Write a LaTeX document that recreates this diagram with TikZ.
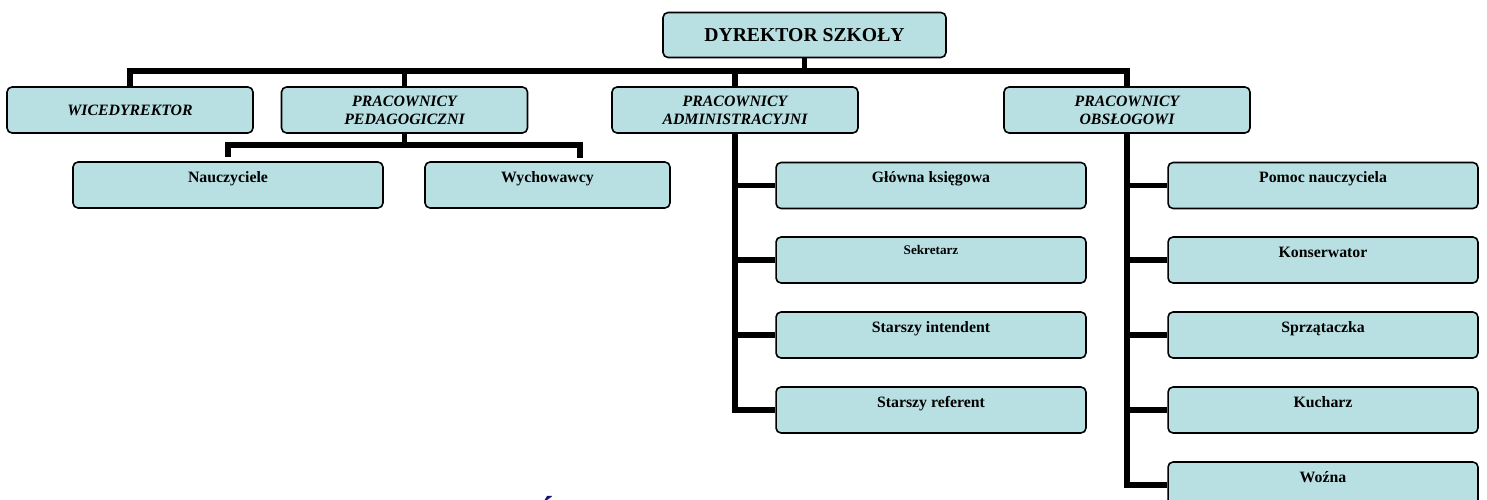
\documentclass[tikz,border=0pt]{standalone}
\usepackage{fontspec}
\setmainfont{Liberation Serif}
\definecolor{boxfill}{RGB}{184,223,226}
\definecolor{navyblue}{RGB}{20,20,120}
\tikzset{
  box/.style={draw=black, line width=0.9pt, rounded corners=1mm, fill=boxfill},
  catbox/.style={box, minimum width=4.92cm, minimum height=9.2mm, inner sep=0pt,
     align=center, font=\fontsize{9}{10.2}\selectfont\bfseries\itshape},
  childbox/.style={box, minimum width=6.2cm, inner sep=0pt, text height=4mm, text depth=5.2mm,
     font=\fontsize{9}{10}\selectfont\bfseries},
  conn/.style={line width=3pt, draw=black, line join=miter}
}
\begin{document}
\begin{tikzpicture}[x=0.02cm,y=-0.02cm]
\fill[white] (0,0) rectangle (1487,500);
\useasboundingbox (0,0) rectangle (1487,500);

% top
\node[box, minimum width=5.66cm, minimum height=9mm, inner sep=0pt,
  font=\fontsize{11.2}{12}\selectfont\bfseries] (dyr) at (804.5,35) {DYREKTOR SZKOŁY};

% categories
\node[catbox] (wice) at (130,110) {WICEDYREKTOR};
\node[catbox] (ped) at (404.5,110) {PRACOWNICY\\PEDAGOGICZNI};
\node[catbox] (adm) at (735,110) {PRACOWNICY\\ADMINISTRACYJNI};
\node[catbox] (obs) at (1127,110) {PRACOWNICY\\OBSŁOGOWI};

% pedagogical staff
\node[childbox] (nau) at (228,185) {Nauczyciele};
\node[childbox, minimum width=4.9cm] (wych) at (547.5,185) {Wychowawcy};

% administration
\node[childbox] (gk) at (931,185.5) {Główna księgowa};
\node[childbox, font=\fontsize{7.5}{8}\selectfont\bfseries, text height=3.4mm, text depth=5.8mm] (sek) at (931,260) {Sekretarz};
\node[childbox] (int) at (931,335) {Starszy intendent};
\node[childbox] (ref) at (931,410) {Starszy referent};

% service
\node[childbox] (pom) at (1323,185.5) {Pomoc nauczyciela};
\node[childbox] (kon) at (1323,260) {Konserwator};
\node[childbox] (spr) at (1323,335) {Sprzątaczka};
\node[childbox] (kuc) at (1323,410) {Kucharz};
\node[childbox] (woz) at (1323,485) {Woźna};

% connectors: top level
\coordinate (tb) at (804.5,71);
\draw[conn] (wice.north) |- (tb) -| (obs.north);
\draw[conn] (dyr.south) -- (tb);
\draw[conn] (ped.north) -- (ped.north |- tb);
\draw[conn] (adm.north) -- (adm.north |- tb);

% connectors: pedagogical
\coordinate (pb) at (404.5,145);
\coordinate (wd) at (580,158);
\draw[conn] ([yshift=0.8mm]nau.north) |- (pb) -| (wd);
\draw[conn] (ped.south) -- (pb);

% connectors: administration
\draw[conn] (adm.south) |- (ref.west);
\foreach \n in {gk,sek,int} {
  \draw[conn] (adm.south |- \n.west) -- (\n.west);
}

% connectors: service
\draw[conn] (obs.south) |- (woz.west);
\foreach \n in {pom,kon,spr,kuc} {
  \draw[conn] (obs.south |- \n.west) -- (\n.west);
}

% partly visible letter at the bottom edge
\node[text=navyblue, font=\fontsize{20}{20}\selectfont\bfseries, anchor=north, inner sep=0pt] (s) at (546,496) {Ś};
\end{tikzpicture}
\end{document}
